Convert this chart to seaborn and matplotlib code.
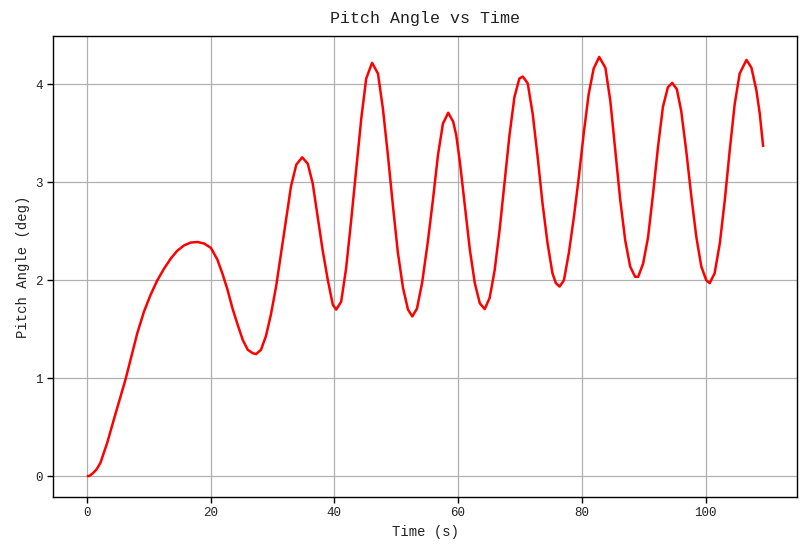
import matplotlib
matplotlib.use("Agg")
import matplotlib.pyplot as plt
import seaborn as sns
import pandas as pd

time_s = [0, 0.4, 1.0, 1.6, 2.2, 3.3, 4.38, 5.46, 6.27, 7.08, 8.16, 9.24, 10.3, 11.4, 12.5,
          13.55, 14.6, 15.7, 16.8, 17.9, 18.95, 20.05, 21.1, 21.9, 22.75, 23.55, 24.4, 25.2,
          26.0, 26.8, 27.35, 28.15, 28.95, 29.75, 30.6, 31.4, 32.2, 33.0, 33.85, 34.8, 35.7,
          36.5, 37.3, 38.1, 38.95, 39.75, 40.3, 41.1, 41.9, 42.7, 43.55, 44.35, 45.15, 46.1,
          47.05, 47.85, 48.65, 49.45, 50.25, 51.1, 51.9, 52.6, 53.35, 54.2, 55.1, 55.95, 56.75,
          57.55, 58.4, 59.2, 59.7, 60.3, 61.1, 61.9, 62.7, 63.5, 64.3, 65.1, 65.9, 66.7, 67.5,
          68.3, 69.1, 69.9, 70.45, 71.25, 72.05, 72.85, 73.65, 74.45, 75.25, 75.8, 76.4, 77.1,
          77.9, 78.7, 79.5, 80.3, 81.1, 81.9, 82.8, 83.8, 84.6, 85.4, 86.2, 87.0, 87.8, 88.6,
          89.1, 89.9, 90.7, 91.5, 92.3, 93.1, 93.9, 94.6, 95.35, 96.05, 96.85, 97.7, 98.5, 99.3,
          100.1, 100.65, 101.45, 102.3, 103.1, 103.9, 104.7, 105.5, 106.6, 107.4, 108.2, 108.75,
          109.3]
pitch_deg = [0, 0.0, 0.03, 0.07, 0.135, 0.34, 0.58, 0.815, 0.99, 1.19, 1.46, 1.68, 1.85, 2.0, 2.12,
             2.22, 2.30, 2.355, 2.385, 2.39, 2.375, 2.33, 2.21, 2.07, 1.90, 1.71, 1.54, 1.39,
             1.29, 1.255, 1.245, 1.29, 1.43, 1.65, 1.94, 2.28, 2.62, 2.96, 3.18, 3.255, 3.19,
             2.99, 2.65, 2.31, 2.0, 1.75, 1.70, 1.78, 2.12, 2.60, 3.14, 3.65, 4.06, 4.22,
             4.11, 3.75, 3.28, 2.77, 2.29, 1.92, 1.70, 1.63, 1.71, 1.98, 2.39, 2.83, 3.28,
             3.60, 3.71, 3.62, 3.48, 3.20, 2.75, 2.31, 1.97, 1.765, 1.705, 1.82, 2.10, 2.51, 2.99,
             3.48, 3.87, 4.06, 4.08, 4.01, 3.70, 3.26, 2.78, 2.38, 2.07, 1.97, 1.935, 2.0,
             2.28, 2.64, 3.05, 3.50, 3.90, 4.16, 4.28, 4.17, 3.83, 3.33, 2.82, 2.41, 2.14, 2.035,
             2.035, 2.17, 2.44, 2.88, 3.36, 3.77, 3.97, 4.015, 3.95, 3.73, 3.33, 2.85, 2.44, 2.14,
             2.0, 1.97, 2.07, 2.38, 2.82, 3.33, 3.80, 4.11, 4.25, 4.17, 3.94, 3.70,
             3.36]

x_ticks = [0, 20, 40, 60, 80, 100]
y_ticks = [0, 1, 2, 3, 4]

sns.set_theme(style="white")
plt.rcParams['font.family'] = ['Liberation Mono', 'DejaVu Sans']

df = pd.DataFrame({"Time (s)": time_s, "Pitch Angle (deg)": pitch_deg})

fig = plt.figure(figsize=(8.09, 5.55), dpi=100)
ax = fig.add_axes([53/809, 1-497/555, (797-53)/809, (497-36)/555])
sns.lineplot(data=df, x="Time (s)", y="Pitch Angle (deg)", color="red", linewidth=1.8,
             ax=ax, solid_joinstyle="round", solid_capstyle="butt")

ax.set_xticks(x_ticks)
ax.set_yticks(y_ticks)
ax.grid(True, color="#b0b0b0", linewidth=0.9)
for s in ax.spines.values():
    s.set_color("black")
    s.set_linewidth(1.0)
ax.tick_params(axis="both", which="major", direction="out", length=4, width=1,
               color="black", labelsize=9, labelcolor="#222222", bottom=True, left=True)
ax.set_title("Pitch Angle vs Time", fontsize=12, pad=9, color="#222222")
ax.set_xlabel("Time (s)", fontsize=10, color="#222222")
ax.set_ylabel("Pitch Angle (deg)", fontsize=10, color="#222222")
ax.margins(x=0.05, y=0.05)

fig.savefig("out.png", dpi=100)
